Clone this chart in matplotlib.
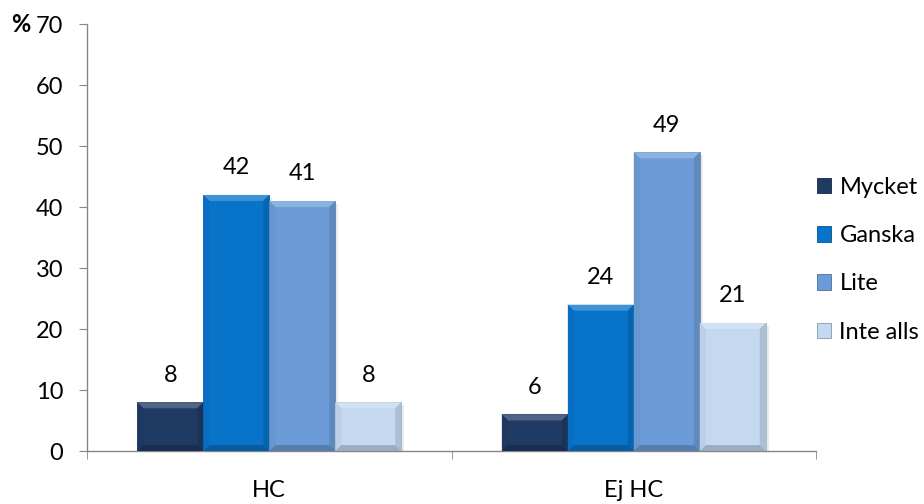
import numpy as np
import matplotlib
matplotlib.use("Agg")
import matplotlib.pyplot as plt
from matplotlib.patches import Polygon, Rectangle, Patch
from matplotlib.colors import to_rgb

plt.rcParams['font.family'] = ['Lato', 'DejaVu Sans']

# Survey answers per group (percent)
groups = ['HC', 'Ej HC']
series = ['Mycket', 'Ganska', 'Lite', 'Inte alls']
mycket = [8, 6]
ganska = [42, 24]
lite = [41, 49]
inte_alls = [8, 21]
colors = ['#1F3A63', '#0773C9', '#6C9CD7', '#C4D8F0']

values = [mycket, ganska, lite, inte_alls]
FS = 17


def shade(c, f):
    r = np.array(to_rgb(c))
    if f > 0:
        return tuple(r + (1 - r) * f)
    return tuple(r * (1 + f))


fig = plt.figure(figsize=(9.24, 5.04), dpi=100)
ax_rect = [0.0942, 0.105, 0.789, 0.847]
ax = fig.add_axes(ax_rect)
ax.set_xlim(-0.5, 1.5)
ax.set_ylim(0, 70)

bar_w = 0.181
x = np.arange(len(groups))

# bevel size in data units (about 6 px)
ax_w_px = ax_rect[2] * 924
ax_h_px = ax_rect[3] * 504
bx = 6 * 2.0 / ax_w_px
by = 6 * 70.0 / ax_h_px
sx = 3 * 2.0 / ax_w_px
sy = 3 * 70.0 / ax_h_px

for i, (vals, col) in enumerate(zip(values, colors)):
    for j, v in enumerate(vals):
        x0 = x[j] + (i - 1.5) * bar_w - bar_w / 2
        x1 = x0 + bar_w
        # soft shadow
        ax.add_patch(Rectangle((x0 + sx, 0), bar_w, v - sy, facecolor='#000000',
                               alpha=0.08, lw=0, zorder=1))
        ax.add_patch(Rectangle((x0, 0), bar_w, v, facecolor=col,
                               edgecolor=shade(col, -0.25), lw=0.5, zorder=2))
        # bevel: top light, sides and bottom darker
        ax.add_patch(Polygon([(x0, v), (x1, v), (x1 - bx, v - by), (x0 + bx, v - by)],
                             closed=True, facecolor=shade(col, 0.22), lw=0, zorder=3))
        ax.add_patch(Polygon([(x0, 0), (x0, v), (x0 + bx, v - by), (x0 + bx, by)],
                             closed=True, facecolor=shade(col, -0.04), lw=0, zorder=3))
        ax.add_patch(Polygon([(x1, 0), (x1, v), (x1 - bx, v - by), (x1 - bx, by)],
                             closed=True, facecolor=shade(col, -0.12), lw=0, zorder=3))
        ax.add_patch(Polygon([(x0, 0), (x1, 0), (x1 - bx, by), (x0 + bx, by)],
                             closed=True, facecolor=shade(col, -0.2), lw=0, zorder=3))
        ax.annotate(str(v), (x0 + bar_w / 2, v), xytext=(0, 19.5),
                    textcoords='offset points', ha='center', va='center',
                    fontsize=FS, color='black', zorder=4)

for s in ['top', 'right']:
    ax.spines[s].set_visible(False)
for s in ['left', 'bottom']:
    ax.spines[s].set_color('#868686')
    ax.spines[s].set_linewidth(1.0)

ax.set_yticks(range(0, 71, 10))
ax.tick_params(axis='y', colors='#868686', labelcolor='black', labelsize=FS,
               length=6, pad=11)
ax.set_xticks(x)
ax.set_xticklabels(groups)
ax.tick_params(axis='x', length=0, labelsize=FS, pad=21)
ax.set_xticks([-0.5, 0.5, 1.5], minor=True)
ax.tick_params(axis='x', which='minor', length=6, color='#868686')

fig.text(0.012, 0.952, '%', fontsize=FS, fontweight='bold', va='center', ha='left')

handles = [Patch(facecolor=c, edgecolor=shade(c, -0.3), lw=0.6) for c in colors]
ax.legend(handles, series, loc='center left', bbox_to_anchor=(1.001, 0.448),
          frameon=False, fontsize=FS, handlelength=0.62, handleheight=0.62,
          handletextpad=0.34, labelspacing=1.15, borderaxespad=0, borderpad=0)

fig.savefig('out.png', dpi=100)
